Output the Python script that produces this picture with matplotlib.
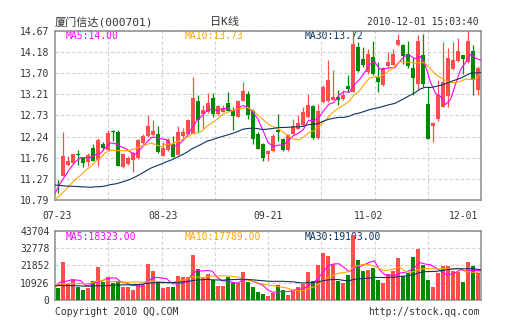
import numpy as np
import pandas as pd
import matplotlib
matplotlib.use("Agg")
import matplotlib.pyplot as plt

# daily sessions 2010-07-23 .. 2010-12-01
opens = [11.19, 11.34, 11.59, 11.63, 11.84, 11.76, 11.66, 11.99, 11.70, 12.08,
         11.93, 12.37, 12.35, 11.55, 11.61, 11.70, 11.76, 12.10, 12.25, 12.29,
         12.30, 11.81, 11.93, 12.08, 11.82, 12.25, 12.31, 12.31, 13.07, 12.77,
         12.81, 13.14, 12.77, 12.82, 13.01, 12.86, 12.69, 13.07, 13.23, 12.83,
         12.30, 12.07, 11.84, 11.91, 12.39, 12.20, 11.94, 12.30, 12.43, 12.51,
         12.70, 12.95, 12.22, 13.04, 13.06, 13.08, 13.16, 13.10, 13.41, 13.27,
         14.30, 14.02, 13.74, 14.07, 13.62, 13.43, 13.87, 13.90, 14.34, 14.36,
         14.15, 13.81, 13.46, 14.11, 13.00, 12.50, 12.65, 12.93, 13.18, 13.79,
         13.97, 14.11, 13.96, 14.20, 13.31]
highs = [11.24, 12.36, 11.79, 11.85, 11.93, 11.78, 11.86, 12.07, 12.22, 12.12,
         12.39, 12.40, 12.40, 11.87, 11.79, 11.89, 12.20, 12.31, 12.73, 12.62,
         12.50, 12.12, 12.22, 12.27, 12.48, 12.45, 12.66, 13.61, 13.20, 12.96,
         13.24, 13.24, 12.98, 12.96, 13.28, 12.92, 13.09, 13.49, 13.29, 12.88,
         12.34, 12.09, 11.94, 12.30, 12.76, 12.22, 12.30, 12.66, 12.75, 12.92,
         13.23, 12.97, 13.00, 13.44, 14.00, 13.77, 13.31, 13.31, 13.65, 14.67,
         14.42, 14.30, 14.25, 14.43, 13.96, 13.85, 14.19, 14.26, 14.59, 14.38,
         14.43, 14.07, 14.57, 14.61, 13.38, 12.57, 13.54, 14.41, 14.27, 14.41,
         14.51, 14.11, 14.66, 14.36, 13.87]
lows = [10.95, 11.34, 11.57, 11.61, 11.60, 11.55, 11.57, 11.68, 11.57, 11.93,
        11.93, 12.14, 11.57, 11.53, 11.59, 11.44, 11.74, 12.08, 12.24, 12.27,
        11.87, 11.79, 11.92, 11.78, 11.82, 12.22, 12.30, 12.31, 12.35, 12.45,
        12.78, 12.69, 12.75, 12.81, 12.83, 12.39, 12.69, 13.06, 12.66, 12.07,
        11.96, 11.68, 11.68, 11.90, 12.14, 11.91, 11.91, 12.30, 12.43, 12.49,
        12.68, 12.20, 12.20, 13.02, 13.05, 13.08, 12.98, 13.08, 13.27, 13.27,
        13.73, 13.85, 13.69, 13.65, 13.27, 13.41, 13.82, 13.88, 14.33, 13.92,
        13.81, 13.21, 13.31, 13.39, 12.20, 12.13, 12.60, 12.93, 12.93, 13.77,
        13.96, 13.69, 13.94, 13.20, 13.20]
closes = [11.17, 11.81, 11.68, 11.84, 11.83, 11.65, 11.83, 11.68, 12.17, 11.99,
          12.33, 12.34, 11.57, 11.85, 11.76, 11.87, 12.16, 12.25, 12.48, 12.37,
          11.89, 11.98, 12.16, 11.78, 12.35, 12.35, 12.63, 13.13, 12.62, 12.86,
          13.01, 12.77, 12.95, 12.88, 12.83, 12.71, 13.07, 13.30, 12.73, 12.20,
          11.96, 11.76, 11.91, 12.26, 12.36, 11.94, 12.28, 12.49, 12.55, 12.81,
          12.97, 12.22, 12.83, 13.39, 13.54, 13.16, 13.09, 13.20, 13.33, 14.38,
          13.75, 13.88, 14.15, 13.69, 13.50, 13.82, 13.96, 14.15, 14.46, 14.10,
          13.87, 13.58, 14.43, 13.46, 12.20, 12.55, 13.20, 13.50, 14.05, 14.00,
          14.20, 14.02, 14.43, 13.54, 13.81]
volumes = [7700, 23800, 9900, 13200, 8400, 6600, 7700, 11900, 20500, 11400,
           14600, 11000, 11900, 8400, 8400, 6600, 9900, 9700, 22500, 18100,
           11400, 7500, 7900, 7900, 15200, 14600, 14600, 28500, 19800, 13700,
           16500, 12600, 8600, 8600, 14600, 11000, 10600, 17900, 11200, 8400,
           5000, 3800, 2600, 4600, 9700, 6600, 3300, 6200, 8400, 10200,
           17900, 11900, 21800, 29800, 27800, 22560, 12190, 10850, 15580, 41000,
           25500, 18000, 18800, 20000, 12680, 10420, 16500, 18350, 26750, 14930,
           16760, 27400, 32020, 22240, 12670, 7975, 17000, 21500, 21500, 18300,
           17800, 11600, 24000, 21500, 16715]

# sessions before 07-23, only needed to start the moving averages
prev_closes = [12.10, 12.05, 11.98, 11.95, 11.92, 11.95, 11.90, 11.88, 11.85, 11.82,
               11.40, 11.10, 10.85, 10.70, 10.54, 10.45, 10.40, 10.38, 10.42, 10.50,
               10.65, 10.60, 10.55, 10.60, 10.75, 10.70, 10.80, 10.95, 11.10]
prev_volumes = [13500, 11200, 12800, 10900, 12400, 11600, 13100, 11800, 12200, 10500,
                6800, 5900, 6400, 5600, 6100, 5800, 6300, 5500, 6200, 5900,
                8200, 9100, 7800, 8900, 8400, 9300, 7900, 8800, 8100]

date_labels = ["07-23", "08-23", "09-21", "11-02", "12-01"]
date_index = [0, 21, 42, 62, 84]
price_ticks = ["10.79", "11.27", "11.76", "12.24", "12.73", "13.21", "13.70", "14.18", "14.67"]
volume_ticks = ["0", "10926", "21852", "32778", "43704"]
ma_periods = [5, 10, 30]

RED = "#ff4d4d"
GREEN = "#008a00"
MA_COLORS = ["#ff00ff", "#ffa500", "#0b3561"]
TEXT = "#333333"
GRID = "#d2d2d2"
FRAME = "#8c8c8c"

W, H = 505, 330


def moving_average(prev, values, n):
    s = pd.Series(list(prev) + list(values), dtype=float)
    return s.rolling(n).mean().to_numpy()[len(prev):]


def style_axes(ax, n):
    for side in ax.spines.values():
        side.set_color(FRAME)
        side.set_linewidth(1.1)
    ax.set_xlim(-0.5, n - 0.5)
    ax.set_xticks(np.linspace(-0.5, n - 0.5, 9)[1:-1], minor=True)
    ax.grid(which="minor", axis="x", color=GRID, lw=0.8, ls=(0, (3, 2)))
    ax.grid(which="major", axis="y", color=GRID, lw=0.8, ls=(0, (3, 2)))
    ax.tick_params(which="both", length=0, labelsize=7, labelcolor=TEXT)
    ax.tick_params(axis="y", pad=4)
    ax.set_axisbelow(True)


def main():
    plt.rcParams["font.family"] = ["DejaVu Sans Mono", "Noto Sans CJK SC"]

    o = np.array(opens)
    h = np.array(highs)
    l = np.array(lows)
    c = np.array(closes)
    v = np.array(volumes, dtype=float)
    n = len(c)
    x = np.arange(n)
    colors = np.where(c >= o, RED, GREEN)
    ma_x = np.linspace(-0.5, n - 0.5, n)

    fig = plt.figure(figsize=(W / 100, H / 100), dpi=100)
    ax = fig.add_axes([55 / W, 1 - 200 / H, 426 / W, 169 / H])
    axv = fig.add_axes([55 / W, 1 - 300 / H, 426 / W, 69.3 / H])

    # price panel
    style_axes(ax, n)
    ax.vlines(x, l, h, colors=colors, lw=0.9, zorder=3)
    ax.bar(x, np.maximum(np.abs(c - o), 0.012), bottom=np.minimum(o, c),
           width=0.8, color=colors, lw=0, zorder=4)
    for period, col, lx in zip(ma_periods, MA_COLORS, [0.024, 0.305, 0.587]):
        ma = moving_average(prev_closes, c, period)
        ax.plot(ma_x, ma, color=col, lw=0.8, zorder=5)
        ax.text(lx, 0.97, f"MA{period}:{ma[-1]:.2f}", color=col, fontsize=7,
                transform=ax.transAxes, va="center", zorder=2)
    ax.set_ylim(10.79, 14.67)
    ax.set_yticks(np.linspace(10.79, 14.67, 9))
    ax.set_yticklabels(price_ticks)
    ax.set_xticks(date_index)
    ax.set_xticklabels(date_labels)
    ax.tick_params(axis="x", pad=8)
    ax.get_xticklabels()[-1].set_horizontalalignment("right")

    # volume panel
    style_axes(axv, n)
    axv.bar(x, v, width=0.8, color=colors, lw=0, zorder=3)
    for period, col, lx in zip(ma_periods, MA_COLORS, [0.024, 0.305, 0.587]):
        ma = moving_average(prev_volumes, v, period)
        axv.plot(ma_x, ma, color=col, lw=0.8, zorder=5)
        axv.text(lx, 0.905, f"MA{period}:{ma[-1]:.2f}", color=col, fontsize=7,
                 transform=axv.transAxes, va="center", zorder=2)
    axv.set_ylim(0, 43704)
    axv.set_yticks(np.linspace(0, 43704, 5))
    axv.set_yticklabels(volume_ticks)
    axv.set_xticks([])

    # header and footer
    fig.text(55 / W, 1 - 22 / H, "厦门信达(000701)", fontsize=8, color=TEXT, va="center")
    fig.text(225 / W, 1 - 22 / H, "日K线", fontsize=8, color=TEXT, va="center", ha="center")
    fig.text(479 / W, 1 - 22 / H, "2010-12-01 15:03:40", fontsize=7, color=TEXT,
             va="center", ha="right")
    fig.text(55 / W, 1 - 312 / H, "Copyright 2010 QQ.COM", fontsize=7, color=TEXT, va="center")
    fig.text(480 / W, 1 - 312 / H, "http://stock.qq.com", fontsize=7, color=TEXT,
             va="center", ha="right")

    fig.savefig("out.png", dpi=100)


main()
